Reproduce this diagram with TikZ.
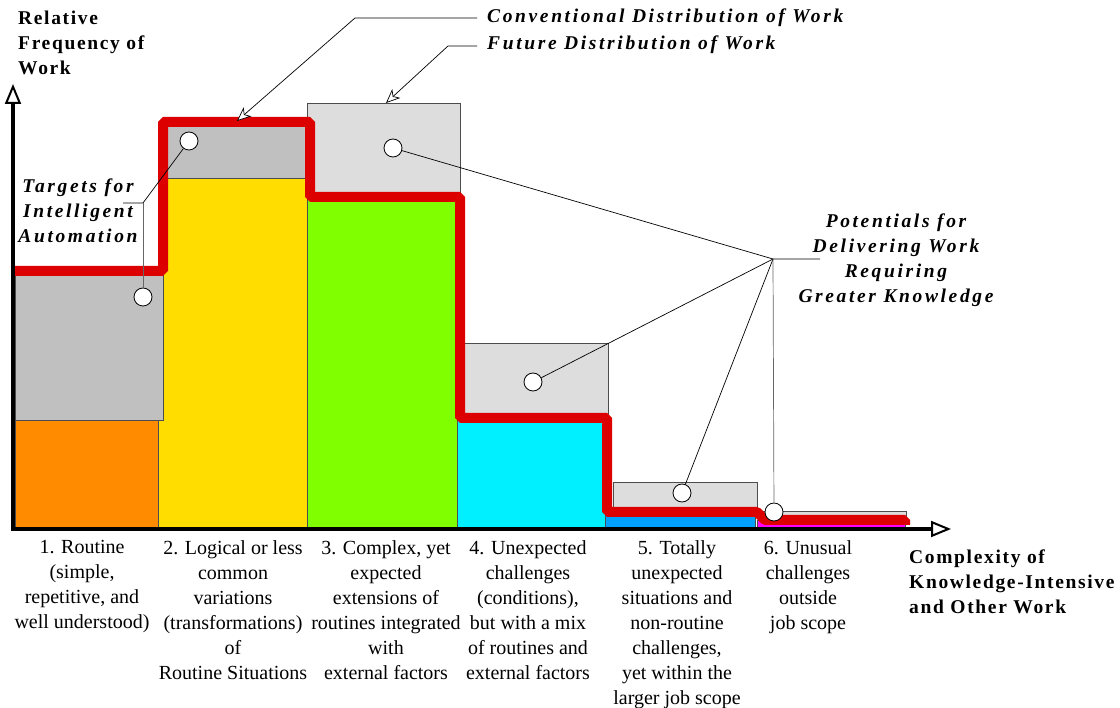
\documentclass[tikz,border=0pt]{standalone}
\usepackage{fontspec}
\setmainfont{Liberation Serif}
\newfontfamily\calloutfont[LetterSpace=13.5]{Liberation Serif}
\newfontfamily\axisfont[LetterSpace=8.5]{Liberation Serif}
\usetikzlibrary{arrows.meta}
\definecolor{futurered}{HTML}{DD0000}
\definecolor{gapgray}{HTML}{C0C0C0}
\definecolor{gaplight}{HTML}{DDDDDD}
\definecolor{routineorange}{HTML}{FF8C00}
\definecolor{logicalyellow}{HTML}{FFDD00}
\definecolor{complexgreen}{HTML}{80FF00}
\definecolor{unexpcyan}{HTML}{00F0FF}
\definecolor{totalblue}{HTML}{00A0FF}
\definecolor{unusualpink}{HTML}{FF00FF}
\begin{document}
\begin{tikzpicture}[x=1pt, y=-1pt,
    bar/.style={draw=black!70, line width=0.8pt},
    dot/.style={circle, draw, fill=white, minimum size=18pt, inner sep=0pt, line width=0.8pt},
    leader/.style={line width=0.7pt},
    pointer/.style={line width=0.7pt, -{Stealth[open, length=14pt, width=12pt, inset=4pt, fill=white]}},
    callout/.style={font=\calloutfont\bfseries\itshape\fontsize{19.5}{25}\selectfont, inner sep=0pt},
    axislabel/.style={font=\axisfont\bfseries\fontsize{19.5}{25}\selectfont, align=left, inner sep=0pt, anchor=west},
    level/.style={font=\fontsize{20}{25}\selectfont, align=center, inner sep=0pt, anchor=north}]
  \useasboundingbox (0,0) rectangle (1120,708);

  % conventional distribution (coloured bars)
  \fill[bar, fill=routineorange] (15,420) rectangle (158,528);
  \fill[bar, fill=logicalyellow] (158,178) rectangle (307,528);
  \fill[bar, fill=complexgreen]  (307,103) rectangle (457,528);
  \fill[bar, fill=unexpcyan]     (457,418) rectangle (605,528);
  \fill[bar, fill=totalblue]     (605,512) rectangle (755,528);
  \fill[bar, fill=unusualpink]   (757,520) rectangle (905,527);
  \draw[bar] (15,420) rectangle (158,528);
  \draw[bar] (158,178) rectangle (307,528);
  \draw[bar] (457,418) rectangle (605,528);

  % shifted work
  \draw[bar, fill=gapgray]  (15,270) rectangle (163,420);
  \draw[bar, fill=gapgray]  (158,122) rectangle (307,178);
  \draw[bar, fill=gaplight] (307,103) rectangle (460,197);
  \draw[bar, fill=gaplight] (463,343) rectangle (608,418);
  \draw[bar, fill=gaplight] (613,482) rectangle (757,510);
  \draw[bar, fill=gaplight] (762,511) rectangle (906,520);

  % future distribution
  \draw[futurered, line width=10pt, line join=bevel]
    (15,271) -- (163,271) -- (163,122) -- (310,122) -- (310,197) -- (460,197)
    -- (460,418) -- (607,418) -- (607,512) -- (757,512) -- (765,520) -- (905,520) -- (905,525);

  % axes
  \node[axislabel] (yname) at (18,43) {Relative\\Frequency of\\Work};
  \node[axislabel] (xname) at (909,582) {Complexity of\\Knowledge-Intensive\\and Other Work};
  \coordinate (origin) at (13,530);
  \coordinate (ytip) at (13,84);
  \coordinate (xtip) at (951,529);
  \draw[line width=4pt, -{Triangle[open, length=20pt, width=16pt, line width=2pt, fill=white]}] (origin) -- (ytip);
  \draw[line width=4pt, -{Triangle[open, length=20pt, width=16pt, line width=2pt, fill=white]}] (11,529) -- (xtip);

  % categories
  \node[level] (cat1) at (82,540)  {1. Routine\\(simple,\\repetitive, and\\well understood)};
  \node[level] (cat2) at (233,540) {2. Logical or less\\common\\variations\\(transformations)\\of\\Routine Situations};
  \node[level] (cat3) at (386,540) {3. Complex, yet\\expected\\extensions of\\routines integrated\\with\\external factors};
  \node[level] (cat4) at (528,540) {4. Unexpected\\challenges\\(conditions),\\but with a mix\\of routines and\\external factors};
  \node[level] (cat5) at (677,540) {5. Totally\\unexpected\\situations and\\non-routine\\challenges,\\yet within the\\larger job scope};
  \node[level] (cat6) at (808,540) {6. Unusual\\challenges\\outside\\job scope};

  % distribution pointers
  \node[callout, anchor=west] (conv) at (487,18) {Conventional Distribution of Work};
  \node[callout, anchor=west] (fut) at (487,45) {Future Distribution of Work};
  \coordinate (conv0) at (477,18);
  \coordinate (conv1) at (355,18);
  \coordinate (convtip) at (237,121);
  \coordinate (fut0) at (477,46);
  \coordinate (fut1) at (448,46);
  \coordinate (futtip) at (386,103);
  \draw[pointer] (conv0) -- (conv1) -- (convtip);
  \draw[pointer] (fut0) -- (fut1) -- (futtip);

  % targets for automation
  \node[callout, align=center] (targets) at (78,211) {Targets for\\Intelligent\\Automation};
  \node[dot] (t1) at (143,297) {};
  \node[dot] (t2) at (189,141) {};
  \coordinate (tj0) at (123,203);
  \coordinate (tj) at (143,203);
  \draw[leader] (tj0) -- (tj) -- (t2);
  \draw[leader, black!60] (tj) -- (t1);

  % potentials for knowledge work
  \node[callout, align=center] (potentials) at (896,260) {Potentials for\\Delivering Work\\Requiring\\Greater Knowledge};
  \node[dot] (p3) at (393,148) {};
  \node[dot] (p4) at (533,382) {};
  \node[dot] (p5) at (682,493) {};
  \node[dot] (p6) at (774,512) {};
  \coordinate (pj0) at (820,259);
  \coordinate (pj) at (773,259);
  \draw[leader] (pj0) -- (pj) -- (p3);
  \draw[leader] (pj) -- (p4);
  \draw[leader] (pj) -- (p5);
  \draw[leader, black!60] (pj) -- (p6);
\end{tikzpicture}
\end{document}
